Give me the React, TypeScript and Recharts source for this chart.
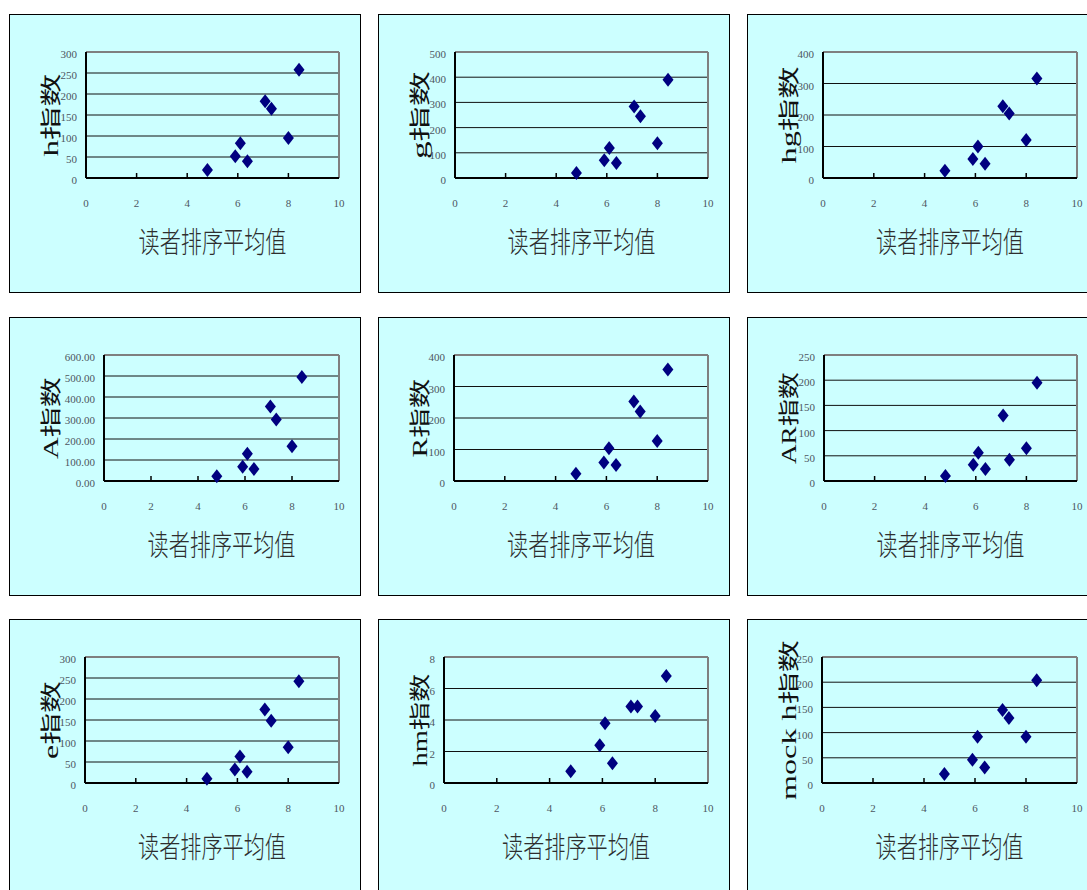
import React from "react";
import {
  ScatterChart,
  Scatter,
  XAxis,
  YAxis,
  CartesianGrid,
  ReferenceLine,
} from "recharts";

// 读者排序平均值 (shared x for every panel)
const readerAvg = [4.8, 5.9, 6.1, 6.38, 7.08, 7.33, 8.0, 8.42];
const xTicks = [0, 2, 4, 6, 8, 10];

const hIndex = [19, 52, 83, 40, 183, 165, 95, 258];
const gIndex = [20, 70, 119, 60, 284, 245, 138, 390];
const hgIndex = [23, 60, 100, 45, 228, 205, 121, 316];
const aIndex = [23, 68, 130, 57, 355, 293, 165, 495];
const rIndex = [23, 59, 104, 51, 252, 221, 127, 354];
const arIndex = [10, 32, 56, 24, 130, 42, 65, 195];
const eIndex = [10, 32, 63, 27, 175, 148, 85, 242];
const hmIndex = [0.75, 2.4, 3.8, 1.25, 4.85, 4.85, 4.25, 6.8];
const mockHIndex = [18, 46, 92, 31, 145, 129, 92, 204];

const hTicks = [0, 50, 100, 150, 200, 250, 300];
const gTicks = [0, 100, 200, 300, 400, 500];
const hgTicks = [0, 100, 200, 300, 400];
const aTicks = [0, 100, 200, 300, 400, 500, 600];
const rTicks = [0, 100, 200, 300, 400];
const arTicks = [0, 50, 100, 150, 200, 250];
const eTicks = [0, 50, 100, 150, 200, 250, 300];
const hmTicks = [0, 2, 4, 6, 8];
const mockHTicks = [0, 50, 100, 150, 200, 250];

const X_TITLE = "读者排序平均值";

const panels = [
  { title: "h指数", values: hIndex, ticks: hTicks, decimals: 0, plotLeft: 76, titleLen: 83 },
  { title: "g指数", values: gIndex, ticks: gTicks, decimals: 0, plotLeft: 76, titleLen: 88 },
  { title: "hg指数", values: hgIndex, ticks: hgTicks, decimals: 0, plotLeft: 75, titleLen: 97 },
  { title: "A指数", values: aIndex, ticks: aTicks, decimals: 2, plotLeft: 94, titleLen: 82 },
  { title: "R指数", values: rIndex, ticks: rTicks, decimals: 0, plotLeft: 75, titleLen: 79 },
  { title: "AR指数", values: arIndex, ticks: arTicks, decimals: 0, plotLeft: 76, titleLen: 92 },
  { title: "e指数", values: eIndex, ticks: eTicks, decimals: 0, plotLeft: 75, titleLen: 78 },
  { title: "hm指数", values: hmIndex, ticks: hmTicks, decimals: 0, plotLeft: 65, titleLen: 93 },
  { title: "mock h指数", values: mockHIndex, ticks: mockHTicks, decimals: 0, plotLeft: 74, titleLen: 160 },
];

const colLefts = [9, 378, 747];
const rowTops = [14, 317, 619];

const CHART_W = 350;
const CHART_H = 277;
const TOP = 37;
const RIGHT = 21;
const X_AXIS_H = 114;
const PLOT_BOTTOM = CHART_H - X_AXIS_H;

const tickFont = "'Liberation Serif', serif";
const titleFont = "'Liberation Serif', 'Noto Sans CJK SC', serif";

function Diamond(props: any) {
  const { cx, cy } = props;
  if (cx == null || cy == null) return null;
  return (
    <polygon
      points={`${cx},${cy - 7} ${cx + 5.5},${cy} ${cx},${cy + 7} ${cx - 5.5},${cy}`}
      fill="#000080"
    />
  );
}

function XTick(props: any) {
  const { x, y, payload } = props;
  const v = payload.value;
  return (
    <g>
      {v !== 0 && v !== 10 ? (
        <line x1={x} x2={x} y1={y} y2={y - 5} stroke="#000" strokeWidth={1.5} />
      ) : null}
      <text
        x={x}
        y={y + 25}
        textAnchor="middle"
        dominantBaseline="central"
        fontFamily={tickFont}
        fontSize={11}
        fill="#4d5661"
      >
        {v}
      </text>
    </g>
  );
}

function makeYTick(decimals: number) {
  return function YTick(props: any) {
    const { x, y, payload } = props;
    return (
      <text
        x={x}
        y={y + 2}
        textAnchor="end"
        dominantBaseline="central"
        fontFamily={tickFont}
        fontSize={11}
        fill="#4d5661"
      >
        {Number(payload.value).toFixed(decimals)}
      </text>
    );
  };
}

function Panel({ cfg, left, top }: { cfg: (typeof panels)[number]; left: number; top: number }) {
  const data = readerAvg.map((x, i) => ({ x, y: cfg.values[i] }));
  const yMax = cfg.ticks[cfg.ticks.length - 1];
  const plotCenterX = (cfg.plotLeft + CHART_W - RIGHT) / 2;
  const plotCenterY = (TOP + PLOT_BOTTOM) / 2;

  return (
    <div
      style={{
        position: "absolute",
        left,
        top,
        width: 352,
        height: 279,
        boxSizing: "border-box",
        border: "1px solid #000",
        background: "#CCFFFF",
      }}
    >
      <ScatterChart
        width={CHART_W}
        height={CHART_H}
        margin={{ top: TOP, right: RIGHT, bottom: 0, left: 0 }}
      >
        <CartesianGrid horizontal vertical={false} stroke="#111" strokeWidth={1} />
        <XAxis
          type="number"
          dataKey="x"
          domain={[0, 10]}
          ticks={xTicks}
          interval={0}
          height={X_AXIS_H}
          axisLine={{ stroke: "#000", strokeWidth: 2 }}
          tickLine={false}
          tickSize={0}
          tickMargin={0}
          tick={<XTick />}
          label={{
            content: () => (
              <text
                x={plotCenterX}
                y={PLOT_BOTTOM + 65}
                textAnchor="middle"
                dominantBaseline="central"
                fontFamily={titleFont}
                fontSize={29}
                fontWeight={300}
                fill="#2e2e2e"
                textLength={148}
                lengthAdjust="spacingAndGlyphs"
              >
                {X_TITLE}
              </text>
            ),
          }}
        />
        <YAxis
          type="number"
          dataKey="y"
          domain={[0, yMax]}
          ticks={cfg.ticks}
          interval={0}
          width={cfg.plotLeft}
          axisLine={{ stroke: "#000", strokeWidth: 2 }}
          tickLine={false}
          tickSize={0}
          tickMargin={9}
          tick={makeYTick(cfg.decimals)}
          label={{
            content: () => (
              <text
                x={41}
                y={plotCenterY}
                transform={`rotate(-90 41 ${plotCenterY})`}
                textAnchor="middle"
                dominantBaseline="central"
                fontFamily={titleFont}
                fontSize={21}
                fill="#111"
                textLength={cfg.titleLen}
                lengthAdjust="spacingAndGlyphs"
              >
                {cfg.title}
              </text>
            ),
          }}
        />
        <ReferenceLine y={yMax} stroke="#7f7f7f" strokeWidth={2} />
        <ReferenceLine x={10} stroke="#7f7f7f" strokeWidth={2} />
        <Scatter data={data} shape={<Diamond />} isAnimationActive={false} />
      </ScatterChart>
    </div>
  );
}

export default function App() {
  return (
    <div
      style={{
        position: "absolute",
        left: 0,
        top: 0,
        width: 1087,
        height: 890,
        overflow: "hidden",
        background: "#fff",
      }}
    >
      {panels.map((cfg, i) => (
        <Panel
          key={cfg.title}
          cfg={cfg}
          left={colLefts[i % 3]}
          top={rowTops[Math.floor(i / 3)]}
        />
      ))}
    </div>
  );
}
